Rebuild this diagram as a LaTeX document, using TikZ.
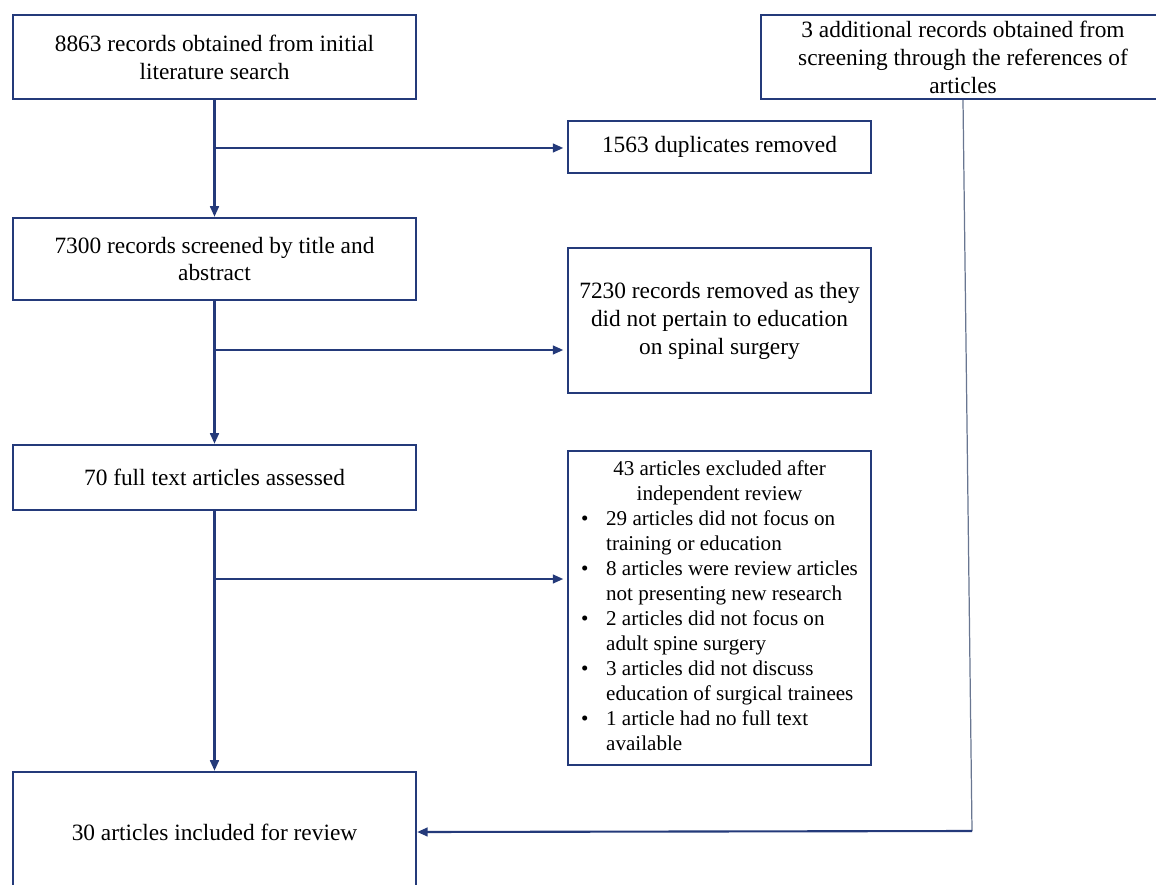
\documentclass[tikz,border=0pt]{standalone}
\usepackage{fontspec}
\setmainfont{Liberation Serif}
\usetikzlibrary{arrows.meta}
\definecolor{flowblue}{RGB}{36,58,122}
\definecolor{sideline}{RGB}{105,118,145}
\begin{document}
\begin{tikzpicture}[x=0.02cm,y=-0.02cm,
    box/.style={draw=flowblue,line width=1.4pt,align=center,inner sep=0pt,
      font=\fontsize{13.3}{15.9}\selectfont},
    arr/.style={draw=flowblue,line width=1.2pt,-{Triangle[length=6pt,width=5pt]}}]
    \useasboundingbox (0,0) rectangle (1156,885);
    % left column
    \node[box,minimum width=8.06cm,minimum height=1.68cm] (search) at (214.5,57)
        {8863 records obtained from initial\\literature search};
    \node[box,minimum width=8.06cm,minimum height=1.64cm] (screen) at (214.5,259)
        {7300 records screened by title and\\abstract};
    \node[box,minimum width=8.06cm,minimum height=1.30cm] (fulltext) at (214.5,477.5)
        {70 full text articles assessed};
    \node[box,minimum width=8.06cm,minimum height=2.40cm] (included) at (214.5,832)
        {30 articles included for review};
    % right column
    \node[box,minimum width=8.08cm,minimum height=1.68cm] (extra) at (963,57)
        {3 additional records obtained from\\screening through the references of\\articles};
    \node[box,minimum width=6.06cm,minimum height=1.04cm] (dupes) at (719.5,147)
        {1563 duplicates removed};
    \node[box,minimum width=6.06cm,minimum height=2.90cm] (removed) at (719.5,320.5)
        {7230 records removed as they\\did not pertain to education\\on spinal surgery};
    \node[box,minimum width=6.06cm,minimum height=6.28cm,
          font=\fontsize{12}{14.2}\selectfont] (excluded) at (719.5,608)
        {\begin{tabular}{@{}l@{}l@{}}
          \multicolumn{2}{c}{43 articles excluded after}\\
          \multicolumn{2}{c}{independent review}\\
          \makebox[0.5cm][l]{\textbullet} & 29 articles did not focus on\\
          & training or education\\
          \makebox[0.5cm][l]{\textbullet} & 8 articles were review articles\\
          & not presenting new research\\
          \makebox[0.5cm][l]{\textbullet} & 2 articles did not focus on\\
          & adult spine surgery\\
          \makebox[0.5cm][l]{\textbullet} & 3 articles did not discuss\\
          & education of surgical trainees\\
          \makebox[0.5cm][l]{\textbullet} & 1 article had no full text\\
          & available
        \end{tabular}};
    % branch points
    \coordinate (b1) at (215,148);
    \coordinate (b2) at (215,350);
    \coordinate (b3) at (215,579);
    \coordinate (bend) at (972,831);
    % connectors
    \draw[arr] (search) -- (screen);
    \draw[arr] (screen) -- (fulltext);
    \draw[arr] (fulltext) -- (included);
    \draw[arr,shorten >=2pt] (b1) -- (b1 -| dupes.west);
    \draw[arr,shorten >=2pt] (b2) -- (b2 -| removed.west);
    \draw[arr,shorten >=2pt] (b3) -- (b3 -| excluded.west);
    \draw[draw=sideline,line width=0.7pt] (extra.south) -- (bend);
    \draw[arr] (bend) -- (included.east);
\end{tikzpicture}
\end{document}
